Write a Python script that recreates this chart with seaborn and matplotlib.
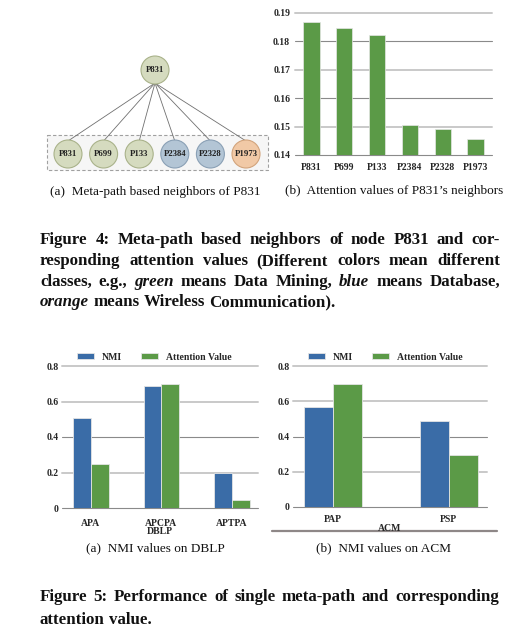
import numpy as np
import pandas as pd
import matplotlib
matplotlib.use("Agg")
import matplotlib.pyplot as plt
import seaborn as sns
from matplotlib.patches import Circle, Rectangle
from matplotlib.ticker import FuncFormatter

# ---------------- data ----------------
center_node = "P831"
neighbors = ["P831", "P699", "P133", "P2384", "P2328", "P1973"]
neighbor_class = ["Data Mining", "Data Mining", "Data Mining",
                  "Database", "Database", "Wireless Communication"]
attention = [0.1867, 0.1847, 0.1822, 0.1505, 0.1492, 0.1458]

dblp_paths = ["APA", "APCPA", "APTPA"]
dblp_nmi = [0.506, 0.688, 0.197]
dblp_att = [0.247, 0.699, 0.047]

acm_paths = ["PAP", "PSP"]
acm_nmi = [0.568, 0.488]
acm_att = [0.699, 0.293]

metrics = ["NMI", "Attention Value"]

# ---------------- style ----------------
sns.set_theme(style="white")
plt.rcParams["font.family"] = ["Liberation Serif", "DejaVu Serif"]

BLUE = "#3a6ca7"
GREEN = "#5b9a47"
class_colors = {"Data Mining": ("#d5dbbf", "#a9b28a"),
                "Database": ("#b3c5d5", "#8aa0b5"),
                "Wireless Communication": ("#f1c9a6", "#d2a47c")}

W, H = 518, 635
fig = plt.figure(figsize=(W / 100, H / 100), dpi=100)


def rect(l, t, r, b):
    return [l / W, 1 - b / H, (r - l) / W, (b - t) / H]


ov = fig.add_axes([0, 0, 1, 1], zorder=0)
ov.set_xlim(0, W)
ov.set_ylim(H, 0)
ov.axis("off")

# ---------------- (a) graph diagram ----------------
r = 14
top_xy = (155, 70)
bottom_y = 154
bx = np.linspace(68, 246, len(neighbors))
ov.add_patch(Rectangle((47, 135), 221, 35, facecolor="#f6f6f6",
                       edgecolor="#a0a0a0", lw=0.8, ls=(0, (3, 2)), zorder=1))
for x in bx:
    ov.plot([top_xy[0], x], [top_xy[1] + r - 1, bottom_y - r + 1],
            color="#707070", lw=0.6, zorder=2)
fc, ec = class_colors[neighbor_class[0]]
ov.add_patch(Circle(top_xy, r, facecolor=fc, edgecolor=ec, lw=0.8, zorder=3))
ov.text(top_xy[0], top_xy[1], center_node, ha="center", va="center",
        fontsize=6.3, fontweight="bold", color="#222222", zorder=4)
for x, name, cls in zip(bx, neighbors, neighbor_class):
    fc, ec = class_colors[cls]
    ov.add_patch(Circle((x, bottom_y), r, facecolor=fc, edgecolor=ec, lw=0.8, zorder=3))
    ov.text(x, bottom_y, name, ha="center", va="center",
            fontsize=6.3, fontweight="bold", color="#222222", zorder=4)


def style_grid(ax, light_idx):
    ax.set_axisbelow(True)
    ax.yaxis.grid(True)
    for i, gl in enumerate(ax.get_ygridlines()):
        if i in light_idx:
            gl.set_color("#c9c9c9")
            gl.set_linewidth(1.4)
        else:
            gl.set_color("#8a8a8a")
            gl.set_linewidth(0.8)
        gl.set_clip_on(False)
    for s in ax.spines.values():
        s.set_visible(False)


# ---------------- (b) attention bars ----------------
ax1 = fig.add_axes(rect(295, 13, 492, 155), zorder=2)
df1 = pd.DataFrame({"neighbor": neighbors, "attention": attention})
sns.barplot(data=df1, x="neighbor", y="attention", color=GREEN, saturation=1,
            width=0.5, edgecolor="#e6e6e6", linewidth=0.5, ax=ax1)
ax1.set_xlim(-0.5, 5.5)
ax1.set_ylim(0.14, 0.19)
ax1.set_yticks([0.14, 0.15, 0.16, 0.17, 0.18, 0.19])
ax1.yaxis.set_major_formatter(FuncFormatter(lambda v, p: f"{v:.2f}"))
ax1.set_xlabel("")
ax1.set_ylabel("")
ax1.tick_params(axis="both", length=0, labelsize=7)
ax1.tick_params(axis="x", pad=6)
ax1.tick_params(axis="y", pad=3.5)
for t in ax1.get_xticklabels() + ax1.get_yticklabels():
    t.set_fontweight("bold")
style_grid(ax1, {1, 3, 5})


# ---------------- Figure 5 bars ----------------
def grouped(ax, paths, nmi, att, xlim, legend_x, xlabel, tpad, lpad):
    df = pd.DataFrame({"path": paths * 2, "value": nmi + att,
                       "metric": [metrics[0]] * len(paths) + [metrics[1]] * len(paths)})
    sns.barplot(data=df, x="path", y="value", hue="metric", hue_order=metrics,
                palette=[BLUE, GREEN], saturation=1, width=0.5,
                edgecolor="#e4e4e4", linewidth=0.6, ax=ax)
    ax.set_xlim(*xlim)
    ax.set_ylim(0, 0.8)
    ax.set_yticks([0, 0.2, 0.4, 0.6, 0.8])
    ax.yaxis.set_major_formatter(FuncFormatter(lambda v, p: "0" if abs(v) < 1e-9 else f"{v:.1f}"))
    ax.set_ylabel("")
    ax.set_xlabel(xlabel, fontsize=7, fontweight="bold", labelpad=lpad)
    ax.tick_params(axis="both", length=0, labelsize=7)
    ax.tick_params(axis="x", pad=tpad)
    ax.tick_params(axis="y", pad=2.5)
    for t in ax.get_xticklabels() + ax.get_yticklabels():
        t.set_fontweight("bold")
    style_grid(ax, {1, 3, 4})
    ax.legend(ncol=2, loc="center left", bbox_to_anchor=(legend_x / W, 1 - 357 / H),
              bbox_transform=fig.transFigure, frameon=False, borderpad=0,
              prop={"size": 7, "weight": "bold"}, handlelength=1.8, handleheight=0.55,
              handletextpad=0.8, columnspacing=1.9)


ax2 = fig.add_axes(rect(62, 366, 258, 508), zorder=2)
grouped(ax2, dblp_paths, dblp_nmi, dblp_att, (-0.41, 2.37), 72, "DBLP", 8, -1)
ax3 = fig.add_axes(rect(293, 366, 487, 507), zorder=2)
grouped(ax3, acm_paths, acm_nmi, acm_att, (-0.345, 1.33), 303, "ACM", 5.5, 0.5)
ov.plot([272, 497], [531, 531], color="#8e8787", lw=1.6, zorder=1)

# ---------------- captions ----------------
cap = dict(ha="center", va="center", fontsize=9.5, color="#111111")
ov.text(155, 192, "(a)  Meta-path based neighbors of P831", **cap)
ov.text(394, 191, "(b)  Attention values of P831\u2019s neighbors", **cap)
ov.text(155, 548, "(a)  NMI values on DBLP", **cap)
ov.text(383, 548, "(b)  NMI values on ACM", **cap)

fig4_lines = [
    [("Figure", "normal"), ("4:", "normal"), ("Meta-path", "normal"), ("based", "normal"),
     ("neighbors", "normal"), ("of", "normal"), ("node", "normal"), ("P831", "normal"),
     ("and", "normal"), ("cor-", "normal")],
    [("responding", "normal"), ("attention", "normal"), ("values", "normal"),
     ("(Different", "normal"), ("colors", "normal"), ("mean", "normal"), ("different", "normal")],
    [("classes,", "normal"), ("e.g.,", "normal"), ("green", "italic"), ("means", "normal"),
     ("Data", "normal"), ("Mining,", "normal"), ("blue", "italic"), ("means", "normal"),
     ("Database,", "normal")],
    [("orange", "italic"), ("means", "normal"), ("Wireless", "normal"),
     ("Communication).", "normal")],
]
fig5_lines = [
    [("Figure", "normal"), ("5:", "normal"), ("Performance", "normal"), ("of", "normal"),
     ("single", "normal"), ("meta-path", "normal"), ("and", "normal"),
     ("corresponding", "normal")],
    [("attention", "normal"), ("value.", "normal")],
]

renderer = fig.canvas.get_renderer()


def justified(lines, ys, x0, x1, fs=12.2):
    sp = ov.text(0, 0, "a a", fontsize=fs, fontweight="bold")
    sp2 = ov.text(0, 0, "aa", fontsize=fs, fontweight="bold")
    space = sp.get_window_extent(renderer).width - sp2.get_window_extent(renderer).width
    sp.remove()
    sp2.remove()
    for li, (words, y) in enumerate(zip(lines, ys)):
        texts = [ov.text(0, y, w, fontsize=fs, fontweight="bold", fontstyle=st,
                         ha="left", va="baseline", color="#111111") for w, st in words]
        widths = [t.get_window_extent(renderer).width for t in texts]
        last = li == len(lines) - 1
        gap = space if last else (x1 - x0 - sum(widths)) / (len(texts) - 1)
        x = x0
        for t, w in zip(texts, widths):
            t.set_x(x)
            x += w + gap


justified(fig4_lines, [244, 265, 286, 306], 40, 500)
justified(fig5_lines, [601, 624], 40, 499)

fig.savefig("out.png", dpi=100)
